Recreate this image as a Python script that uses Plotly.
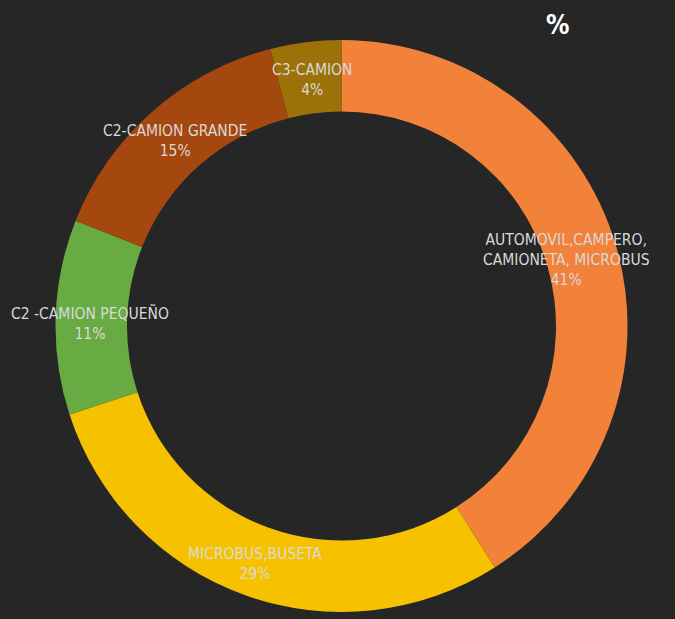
import plotly.graph_objects as go

categories = [
    "AUTOMOVIL,CAMPERO,<br>CAMIONETA, MICROBUS",
    "MICROBUS,BUSETA",
    "C2 -CAMION PEQUEÑO",
    "C2-CAMION GRANDE",
    "C3-CAMION",
]
percentages = [41, 29, 11, 15, 4]
slice_colors = ["#F2813A", "#F6C200", "#68AB42", "#A4480F", "#9C7208"]

# label centres in pixels of the 675x619 picture
label_pos = [(566, 260), (255, 564), (90, 323), (175, 141), (312, 80)]

W, H = 675, 619

fig = go.Figure()
fig.add_trace(go.Pie(
    labels=categories,
    values=percentages,
    sort=False,
    direction="clockwise",
    rotation=0,
    hole=0.75,
    textinfo="none",
    hoverinfo="label+percent",
    marker=dict(colors=slice_colors, line=dict(width=0)),
    domain=dict(x=[50 / W, 633 / W], y=[(H - 612) / H, (H - 40) / H]),
    showlegend=False,
))

annotations = []
for name, pct, (px, py) in zip(categories, percentages, label_pos):
    annotations.append(dict(
        text=f"{name}<br>{pct}%",
        x=px / W, y=1 - py / H, xref="paper", yref="paper",
        xanchor="center", yanchor="middle", showarrow=False,
        font=dict(family="DejaVu Sans Condensed, Liberation Sans", size=15.5, color="#D9D9D9"),
    ))

annotations.append(dict(
    text="<b>%</b>", x=557 / W, y=1 - 25 / H, xref="paper", yref="paper",
    xanchor="center", yanchor="middle", showarrow=False,
    font=dict(family="DejaVu Sans Condensed, Liberation Sans", size=26, color="#FFFFFF"),
))

fig.update_layout(
    width=W, height=H,
    paper_bgcolor="#262626",
    plot_bgcolor="#262626",
    margin=dict(l=0, r=0, t=0, b=0),
    annotations=annotations,
)

fig.write_html("out.html", config={"displayModeBar": False},
               post_script="document.body.style.margin='0';document.body.style.background='#262626';")
